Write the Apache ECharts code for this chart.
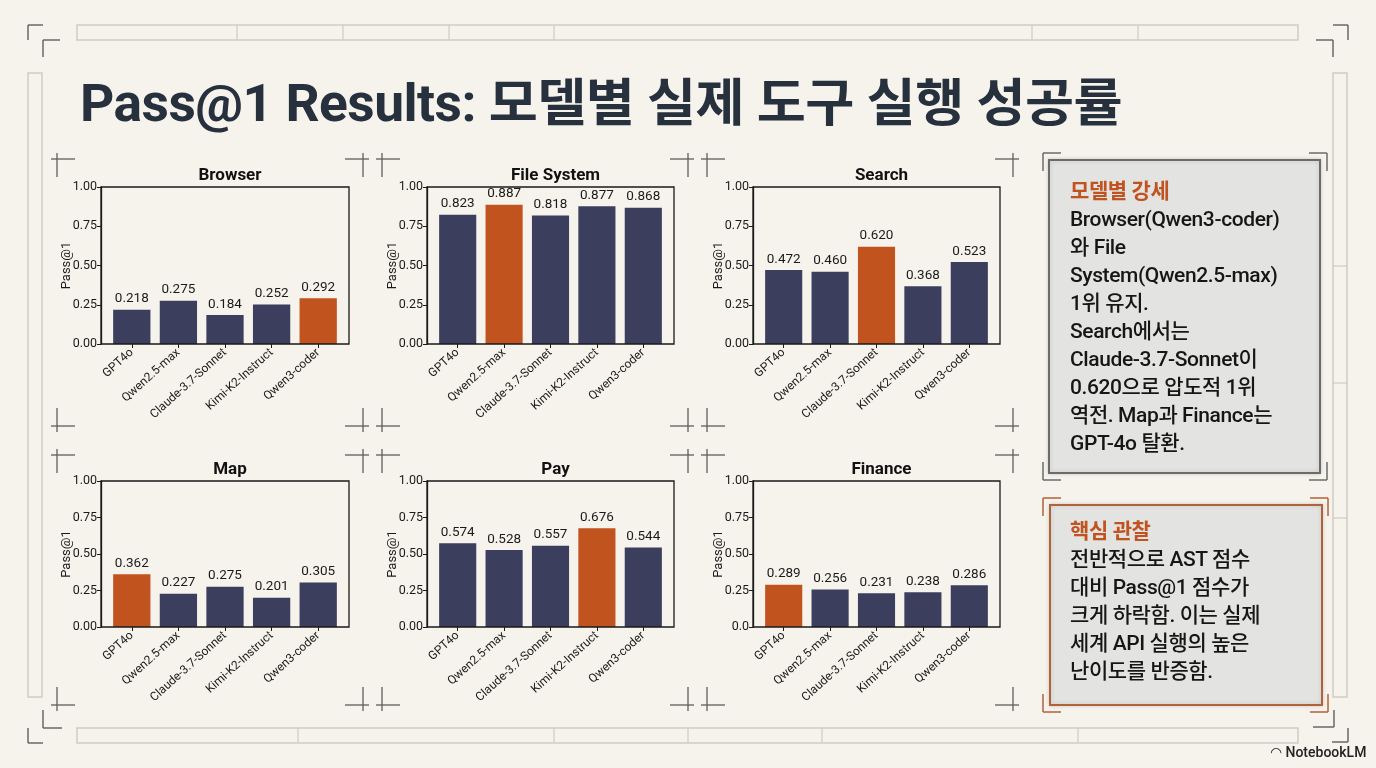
<!DOCTYPE html>
<html><head><meta charset="utf-8">
<script src="https://cdn.jsdelivr.net/npm/echarts@6/dist/echarts.min.js"></script>
<style>
html,body{margin:0;padding:0;background:#f6f3ec;}
#wrap{position:relative;width:1376px;height:768px;overflow:hidden;background:#f6f3ec;}
#chart{position:absolute;left:0;top:0;width:1376px;height:768px;}
#title{position:absolute;left:80px;top:62px;font-family:Roboto,"Noto Sans CJK KR",sans-serif;font-weight:700;font-size:51px;color:#27303d;white-space:nowrap;transform-origin:left top;letter-spacing:-0.5px;}
.panel{position:absolute;font-family:Roboto,"Noto Sans CJK KR",sans-serif;font-weight:500;font-size:21px;line-height:28px;color:#161616;white-space:nowrap;letter-spacing:-0.4px;}
.panel .h{font-weight:700;color:#c0531f;}
#logo{position:absolute;left:1270px;top:744px;font-family:Roboto,"Noto Sans",sans-serif;font-weight:500;font-size:14px;color:#222;}
</style></head>
<body><div id="wrap">
<div id="chart"></div>
<div id="title">Pass@1 Results: 모델별 실제 도구 실행 성공률</div>
<div class="panel" style="left:1070px;top:177px;"><span class="h">모델별 강세</span><br>Browser(Qwen3-coder)<br>와 File<br>System(Qwen2.5-max)<br>1위 유지.<br>Search에서는<br>Claude-3.7-Sonnet이<br>0.620으로 압도적 1위<br>역전. Map과 Finance는<br>GPT-4o 탈환.</div>
<div class="panel" style="left:1070px;top:517px;"><span class="h">핵심 관찰</span><br>전반적으로 AST 점수<br>대비 Pass@1 점수가<br>크게 하락함. 이는 실제<br>세계 API 실행의 높은<br>난이도를 반증함.</div>
<div id="logo">&#x25E0; NotebookLM</div>
</div>
<script>
const categories = ['GPT4o','Qwen2.5-max','Claude-3.7-Sonnet','Kimi-K2-Instruct','Qwen3-coder'];
const panelTitles = ['Browser','File System','Search','Map','Pay','Finance'];
const browser = [0.218,0.275,0.184,0.252,0.292];
const fileSystem = [0.823,0.887,0.818,0.877,0.868];
const search = [0.472,0.460,0.620,0.368,0.523];
const mapVals = [0.362,0.227,0.275,0.201,0.305];
const pay = [0.574,0.528,0.557,0.676,0.544];
const finance = [0.289,0.256,0.231,0.238,0.286];

const allSeries = [browser, fileSystem, search, mapVals, pay, finance];
const NAVY = '#3b3e5d', ORANGE = '#c1531f';
const FONT = 'Roboto, "Noto Sans CJK KR", sans-serif';
const lefts = [101, 427, 753];
const widths = [248, 247, 247];
const tops = [187, 481];
const heights = [157, 146];
const PAD = 7.5; // inner x margin of each plot frame

const grids = [], xAxes = [], yAxes = [], series = [], titles = [];
allSeries.forEach((vals, i) => {
  const c = i % 3, r = Math.floor(i / 3);
  grids.push({left: lefts[c] + PAD, top: tops[r], width: widths[c] - 2 * PAD, height: heights[r], show: false, containLabel: false});
  titles.push({text: panelTitles[i], left: lefts[c] + widths[c] / 2, top: tops[r] - 25, textAlign: 'center', textStyle: {fontFamily: FONT, fontSize: 17, fontWeight: 'bold', color: '#111'}});
  xAxes.push({type: 'category', gridIndex: i, data: categories,
    axisLine: {show: false}, axisTick: {show: true, alignWithLabel: true, length: 4, lineStyle: {color: '#1a1a1a'}},
    axisLabel: {rotate: 42, fontSize: 12, color: '#1a1a1a', fontFamily: FONT, interval: 0, margin: 7}});
  yAxes.push({type: 'value', gridIndex: i, min: 0, max: 1, interval: 0.25, offset: PAD,
    name: 'Pass@1', nameLocation: 'middle', nameGap: 28, nameMoveOverlap: false, nameTextStyle: {fontFamily: FONT, fontSize: 13, color: '#1a1a1a'},
    axisLine: {show: true, lineStyle: {color: '#1a1a1a', width: 1.3}}, axisTick: {show: true, length: 4, lineStyle: {color: '#1a1a1a'}},
    splitLine: {show: false},
    axisLabel: {fontSize: 12.5, color: '#1a1a1a', fontFamily: FONT, margin: 4,
      formatter: v => (i === 5 && v === 0) ? '0.0' : v.toFixed(2)}});
  const maxIdx = vals.indexOf(Math.max(...vals));
  series.push({type: 'bar', xAxisIndex: i, yAxisIndex: i, barWidth: '80%',
    data: vals.map((v, k) => ({value: v, itemStyle: {color: k === maxIdx ? ORANGE : NAVY}})),
    label: {show: true, position: 'top', distance: 4, fontFamily: FONT, fontSize: 13.5, color: '#1a1a1a', formatter: p => p.value.toFixed(3)},
    emphasis: {disabled: true}, animation: false});
});

// decorations
const G = [];
const GREY = '#5e5e5e', PALE = '#cfccc5';
const ln = (x1, y1, x2, y2, col, w) => G.push({type: 'line', shape: {x1, y1, x2, y2}, style: {stroke: col || GREY, lineWidth: w || 1.4}, silent: true});
const rc = (x, y, w, h, col) => G.push({type: 'rect', shape: {x, y, width: w, height: h}, style: {fill: 'transparent', stroke: col || PALE, lineWidth: 1.5}, silent: true});
// plot frames (spines)
for (let i = 0; i < 6; i++) {
  const c = i % 3, r = Math.floor(i / 3);
  G.push({type: 'rect', z: 10, shape: {x: lefts[c], y: tops[r], width: widths[c], height: heights[r]}, style: {fill: 'transparent', stroke: '#1a1a1a', lineWidth: 1.3}, silent: true});
}
// corner crop marks of each chart cell
const cellX = [[57, 363], [382, 688], [707, 1013]];
const cellY = [[159, 426], [455, 705]];
cellX.forEach(([xl, xr]) => cellY.forEach(([yt, yb]) => {
  ln(xl - 6, yt, xl + 18, yt, GREY, 1.3); ln(xl, yt - 6, xl, yt + 18, GREY, 1.3);
  ln(xr - 18, yt, xr + 6, yt, GREY, 1.3); ln(xr, yt - 6, xr, yt + 18, GREY, 1.3);
  ln(xl - 6, yb, xl + 18, yb, GREY, 1.3); ln(xl, yb - 18, xl, yb + 6, GREY, 1.3);
  ln(xr - 18, yb, xr + 6, yb, GREY, 1.3); ln(xr, yb - 18, xr, yb + 6, GREY, 1.3);
}));
// top bar
rc(77, 25, 1221, 15); [237, 343, 449, 554, 1032, 1138].forEach(x => ln(x, 25, x, 40, PALE, 1.2));
// bottom bar
rc(77, 728, 1221, 15); [298, 554, 688, 822, 1078].forEach(x => ln(x, 728, x, 743, PALE, 1.2));
// left bar
rc(28, 73, 14, 624);
// right bar
rc(1333, 73, 14, 624); [266, 383, 518].forEach(y => ln(1333, y, 1347, y, PALE, 1.2));
// frame brackets
ln(28, 25, 43, 25); ln(28, 25, 28, 40); ln(43, 40, 60, 40); ln(43, 40, 43, 57);
ln(1333, 25, 1348, 25); ln(1348, 25, 1348, 40); ln(1316, 40, 1333, 40); ln(1333, 40, 1333, 57);
ln(43, 710, 43, 728); ln(43, 728, 62, 728); ln(28, 728, 28, 743); ln(28, 743, 43, 743);
ln(1313, 727, 1334, 727); ln(1334, 710, 1334, 727); ln(1332, 742, 1348, 742); ln(1348, 728, 1348, 742);
// panels
G.push({type: 'rect', shape: {x: 1049, y: 160, width: 271, height: 313}, style: {fill: '#e3e3e1', stroke: '#6b6b6b', lineWidth: 2, shadowBlur: 4, shadowColor: 'rgba(0,0,0,0.15)'}, silent: true});
G.push({type: 'rect', shape: {x: 1050, y: 505, width: 272, height: 200}, style: {fill: '#e3e3e1', stroke: '#b0623a', lineWidth: 2, shadowBlur: 4, shadowColor: 'rgba(0,0,0,0.15)'}, silent: true});
const brackets = (x1, y1, x2, y2, col, d) => {
  ln(x1, y1, x1 + d, y1, col, 1.5); ln(x1, y1, x1, y1 + d, col, 1.5);
  ln(x2 - d, y1, x2, y1, col, 1.5); ln(x2, y1, x2, y1 + d, col, 1.5);
  ln(x1, y2, x1 + d, y2, col, 1.5); ln(x1, y2 - d, x1, y2, col, 1.5);
  ln(x2 - d, y2, x2, y2, col, 1.5); ln(x2, y2 - d, x2, y2, col, 1.5);
};
brackets(1043, 153, 1327, 480, '#6b6b6b', 18);
brackets(1043, 498, 1328, 712, '#b0623a', 18);

const chart = echarts.init(document.getElementById('chart'), null, {renderer: 'canvas'});
chart.setOption({backgroundColor: 'transparent', animation: false, title: titles, grid: grids, xAxis: xAxes, yAxis: yAxes, series: series, graphic: G});

// fit title width to reference (80 -> 1122)
const t = document.getElementById('title');
const w = t.getBoundingClientRect().width;
t.style.transform = 'scaleX(' + (1042 / w) + ')';
</script>
</body></html>
